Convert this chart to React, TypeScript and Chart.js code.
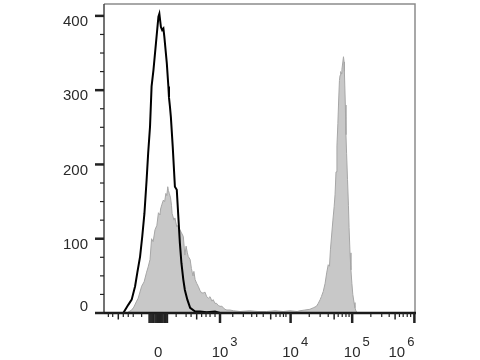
import { useEffect, useRef } from "react";
import { Chart, registerables } from "chart.js";

Chart.register(...registerables);

// x values are display channels (0–1000 across the biexponential axis), y values are cell counts
const controlChannel = [62, 78, 89, 100, 107, 116, 123, 130, 137, 142, 148, 153, 159, 167, 175, 178, 183, 187, 191, 194, 202, 207, 209, 212, 215, 221, 228, 234, 239, 244, 249, 255, 260, 268, 277, 293, 309, 330, 357, 373];
const controlCount = [0, 11, 18, 36, 54, 76, 103, 134, 179, 215, 251, 305, 327, 363, 399, 403, 385, 381, 383, 372, 336, 305, 290, 278, 264, 224, 170, 166, 130, 94, 67, 45, 31, 18, 7, 2, 2, 1, 2, 0];

const stainedChannel = [73, 89, 96, 105, 110, 121, 129, 137, 142, 148, 153, 158, 164, 170, 175, 180, 182, 186, 191, 195, 199, 202, 205, 207, 210, 214, 217, 219, 225, 228, 234, 238, 244, 249, 255, 260, 264, 268, 271, 277, 281, 286, 289, 293, 298, 303, 309, 314, 319, 325, 330, 336, 341, 347, 351, 357, 362, 368, 373, 379, 384, 389, 395, 405, 416, 437, 469, 495, 523, 550, 576, 598, 621, 630, 646, 662, 673, 683, 689, 695, 699, 705, 711, 716, 721, 725, 728, 732, 736, 740, 743, 746, 749, 752, 754, 757, 759, 761, 764, 765, 768, 770, 772, 773, 776, 778, 780, 783, 786, 788, 791, 794, 797, 800, 804, 807, 810, 814];
const stainedCount = [0, 4, 8, 16, 20, 36, 42, 55, 62, 72, 100, 96, 112, 118, 135, 132, 140, 146, 152, 150, 161, 158, 170, 165, 161, 155, 145, 134, 125, 128, 116, 118, 112, 108, 103, 78, 90, 81, 76, 72, 60, 50, 56, 45, 40, 36, 30, 27, 27, 28, 22, 20, 22, 16, 18, 13, 13, 10, 9, 9, 7, 5, 4, 4, 3, 2, 3, 2, 2, 3, 2, 3, 2, 3, 4, 5, 7, 9, 13, 18, 22, 29, 40, 54, 65, 63, 85, 105, 125, 143, 160, 190, 225, 255, 280, 313, 320, 325, 322, 328, 338, 345, 338, 325, 280, 240, 215, 180, 145, 115, 81, 58, 40, 25, 14, 7, 3, 0];

const yMajorTicks = [0, 100, 200, 300, 400];
const yTickLabels = ["0", "100", "200", "300", "400"];
const yMinorTicks = [25, 50, 75, 125, 150, 175, 225, 250, 275, 325, 350, 375];

const xMajorTicks = [174, 373, 600, 798, 998];
const xTickBase = ["0", "10", "10", "10", "10"];
const xTickExponent = ["", "3", "4", "5", "6"];
const xMediumTicks = [46, 298, 536, 740, 936];
const xMinorTicks = [14, 28, 62, 78, 94, 121, 232, 264, 280, 314, 328, 341, 357, 414, 448, 475, 491, 512, 553, 566, 577, 585, 660, 695, 721, 753, 766, 778, 788, 858, 893, 917, 950, 962, 975, 986];
const xZeroClusterTicks = [145, 148, 151, 154, 157, 160, 164, 167, 170, 174, 178, 181, 184, 187, 190, 194, 197, 200, 204];

const X_MIN = 0;
const X_MAX = 1000;
const Y_MAX = 416;

const FONT = '"Liberation Sans", Arial, sans-serif';

const flowAxesPlugin = {
  id: "flowAxes",
  afterDraw(chart: any) {
    const { ctx, chartArea: a, scales } = chart;
    const xs = scales.x;
    const ys = scales.y;
    const line = (x1: number, y1: number, x2: number, y2: number) => {
      ctx.beginPath();
      ctx.moveTo(x1, y1);
      ctx.lineTo(x2, y2);
      ctx.stroke();
    };
    ctx.save();
    // frame (top and right)
    ctx.strokeStyle = "#8c8c8c";
    ctx.lineWidth = 1.5;
    ctx.beginPath();
    ctx.moveTo(a.left, a.top);
    ctx.lineTo(a.right, a.top);
    ctx.lineTo(a.right, a.bottom);
    ctx.stroke();
    // left axis
    ctx.strokeStyle = "#444";
    ctx.lineWidth = 1.5;
    line(a.left, a.top, a.left, a.bottom);

    // y ticks
    ctx.strokeStyle = "#222";
    ctx.lineWidth = 1.2;
    yMinorTicks.forEach((v) => {
      const y = ys.getPixelForValue(v);
      line(a.left - 4, y, a.left, y);
    });
    ctx.lineWidth = 2.5;
    yMajorTicks.forEach((v) => {
      const y = ys.getPixelForValue(v);
      line(a.left - 9, y, a.left, y);
    });

    // bottom axis
    ctx.strokeStyle = "#1a1a1a";
    ctx.lineWidth = 2.5;
    line(a.left, a.bottom, a.right + 1, a.bottom);

    // x ticks
    ctx.strokeStyle = "#222";
    ctx.lineWidth = 1.2;
    xMinorTicks.forEach((v) => {
      const x = xs.getPixelForValue(v);
      line(x, a.bottom, x, a.bottom + 4);
    });
    ctx.lineWidth = 1.5;
    xMediumTicks.forEach((v) => {
      const x = xs.getPixelForValue(v);
      line(x, a.bottom, x, a.bottom + 6.5);
    });
    ctx.lineWidth = 1.5;
    xZeroClusterTicks.forEach((v) => {
      const x = xs.getPixelForValue(v);
      line(x, a.bottom, x, a.bottom + 10);
    });
    ctx.lineWidth = 2.5;
    xMajorTicks.forEach((v) => {
      const x = xs.getPixelForValue(v);
      line(x, a.bottom, x, a.bottom + 10);
    });

    // y labels
    ctx.fillStyle = "#2a2a2a";
    ctx.font = `15px ${FONT}`;
    ctx.textAlign = "right";
    ctx.textBaseline = "middle";
    yMajorTicks.forEach((v, i) => {
      const y = ys.getPixelForValue(v);
      ctx.fillText(yTickLabels[i], a.left - 16, v === 0 ? y - 6 : y + 6);
    });

    // x labels
    ctx.textBaseline = "alphabetic";
    const baseY = a.bottom + 44;
    xMajorTicks.forEach((v, i) => {
      const x = xs.getPixelForValue(v);
      const base = xTickBase[i];
      const exp = xTickExponent[i];
      ctx.font = `15px ${FONT}`;
      const bw = ctx.measureText(base).width;
      ctx.font = `13px ${FONT}`;
      const ew = exp ? ctx.measureText(exp).width + 2 : 0;
      const last = i === xMajorTicks.length - 1;
      const bx = last ? x - ew - bw : x - bw / 2;
      ctx.textAlign = "left";
      ctx.font = `15px ${FONT}`;
      ctx.fillText(base, bx, baseY);
      if (exp) {
        ctx.font = `13px ${FONT}`;
        ctx.fillText(exp, bx + bw + 2, baseY - 11);
      }
    });
    ctx.restore();
  },
};

export default function App() {
  const canvasRef = useRef<HTMLCanvasElement | null>(null);

  useEffect(() => {
    document.body.style.margin = "0";
    const canvas = canvasRef.current;
    if (!canvas) return;
    const chart = new Chart(canvas, {
      type: "line",
      data: {
        datasets: [
          {
            label: "Control",
            data: controlChannel.map((x, i) => ({ x, y: controlCount[i] })),
            borderColor: "#000000",
            borderWidth: 2,
            pointRadius: 0,
            tension: 0,
            fill: false,
          },
          {
            label: "Stained",
            data: stainedChannel.map((x, i) => ({ x, y: stainedCount[i] })),
            borderColor: "#a6a6a6",
            backgroundColor: "#c8c8c8",
            borderWidth: 1,
            pointRadius: 0,
            tension: 0,
            fill: "origin",
          },
        ],
      },
      options: {
        responsive: false,
        animation: false,
        devicePixelRatio: 1,
        layout: { padding: { left: 104, right: 65, top: 4, bottom: 47 } },
        plugins: {
          legend: { display: false },
          tooltip: { enabled: false },
        },
        scales: {
          x: { type: "linear", min: X_MIN, max: X_MAX, display: false },
          y: { type: "linear", min: 0, max: Y_MAX, display: false },
        },
      },
      plugins: [flowAxesPlugin],
    });
    return () => chart.destroy();
  }, []);

  return <canvas ref={canvasRef} width={480} height={360} style={{ display: "block" }} />;
}
